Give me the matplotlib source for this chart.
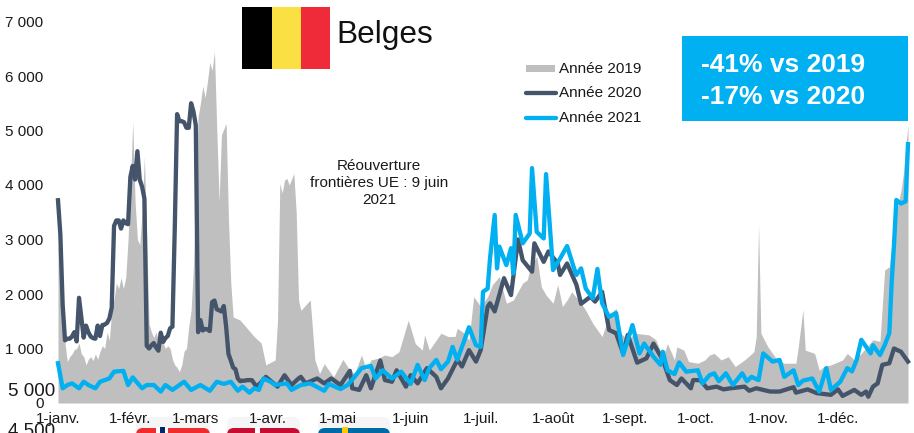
import matplotlib
matplotlib.use("Agg")
import matplotlib.pyplot as plt
from matplotlib.patches import Rectangle, FancyBboxPatch

plt.rcParams['font.family'] = ['Liberation Sans', 'DejaVu Sans']

month_ticks = [0, 31, 59, 90, 120, 151, 181, 212, 243, 273, 304, 334]
month_labels = ['1-janv.', '1-févr.', '1-mars', '1-avr.', '1-mai', '1-juin',
                '1-juil.', '1-août', '1-sept.', '1-oct.', '1-nov.', '1-déc.']
y_ticks = [0, 1000, 2000, 3000, 4000, 5000, 6000, 7000]
y_labels = ['0', '1 000', '2 000', '3 000', '4 000', '5 000', '6 000', '7 000']

days_2019 = [0, 1, 2, 3, 4, 5, 6, 7, 8, 9, 10, 11, 12, 13, 14, 15, 16, 17, 18, 19, 20, 21, 22, 23, 24, 25, 26, 27, 28, 29,
             30, 31, 32, 33, 34, 35, 36, 37, 38, 39, 40, 41, 42, 43, 44, 45, 46, 47, 48, 49, 50, 51, 52, 53, 54, 55, 56, 57, 58, 59,
             60, 61, 62, 63, 64, 65, 66, 67, 68, 69, 70, 72, 73, 74, 75, 78, 84, 87, 89, 93, 94, 95, 96, 97, 98, 99, 101, 102, 103,
             104, 108, 110, 112, 114, 116, 118, 122, 125, 127, 130, 132, 134, 137, 140, 143, 146, 150, 153, 156, 157, 159, 164, 167,
             170, 171, 174, 176, 178, 181, 184, 186, 189, 192, 195, 199, 201, 202, 205, 207, 209, 212, 214, 216, 218, 220, 224, 226,
             229, 233, 236, 239, 241, 244, 247, 253, 256, 259, 261, 264, 265, 268, 270, 274, 277, 279, 281, 284, 287, 290, 294, 298,
             299, 300, 301, 304, 308, 311, 316, 317, 319, 320, 324, 326, 328, 331, 336, 338, 341, 344, 349, 352, 354, 356, 358, 360,
             361, 362, 363, 364]
vals_2019 = [2900, 2600, 1300, 1100, 760, 850, 900, 980, 1000, 1100, 900, 850, 700, 800, 850, 780, 900, 800, 950, 1050,
             1000, 1300, 1150, 1700, 1900, 2200, 2100, 2300, 2100, 2300, 3000, 4000, 5160, 3700, 3000, 2900, 3500, 4520, 3000, 1450,
             1300, 1200, 1300, 1150, 1200, 1100, 1000, 1050, 1000, 800, 700, 650, 575, 700, 950, 1000, 1400, 1700, 2500, 4000,
             5250, 5500, 5816, 5600, 5900, 6250, 6100, 6450, 5000, 3700, 4920, 5130, 3360, 2200, 1580, 1520, 1220, 1100, 700, 790, 1500,
             4030, 3850, 4090, 4120, 4000, 4210, 3500, 1890,
             1700, 1890, 790, 540, 720, 600, 480, 800, 600, 540, 880, 600, 790, 820, 880, 850, 940, 1520, 1090, 970, 1250, 970, 1280, 1220,
             1220, 1370, 1280, 1150, 1950, 1770, 1950, 2170, 2320, 1830, 1890, 2200, 2260, 2450, 2690, 2130, 1980, 1830, 2170, 1770, 1890, 2040, 1830, 1700,
             1460, 1220, 1610, 1740, 1280, 1160, 1280, 1250, 1160, 850, 1090, 790, 1030, 970, 760, 730, 790, 880, 910, 790, 850, 670, 790, 940,
             1220, 3270, 1280, 1030, 790, 730, 730, 1030, 1710, 970, 910, 600, 670, 700, 790, 910, 790, 910, 1160, 1130, 2440, 2500, 3300, 3700,
             3900, 4200, 4700, 5100]

days_2020 = [0, 1, 2, 3, 4, 5, 6, 7, 8, 9, 11, 12, 13, 14, 15, 16, 17, 18, 19, 20, 21, 22, 23, 24, 25, 26, 27, 28, 29, 30,
             31, 32, 33, 34, 35, 36, 37, 38, 39, 40, 41, 42, 43, 44, 45, 46, 47, 48, 49, 50, 51, 52, 53, 54, 55, 56, 57, 58, 59, 60,
             61, 62, 63, 64, 65, 66, 67, 68, 69, 70, 71, 72, 73, 74, 75, 76, 77, 78, 79, 80, 81, 82, 83, 85, 87, 89, 94, 97, 100, 103,
             104, 106, 111, 114, 117, 121, 125, 126, 129, 132, 134, 138, 140, 143, 145, 149, 151, 154, 158, 162, 164, 167, 171, 173, 176, 179,
             181, 184, 185, 187, 191, 194, 197, 199, 203, 204, 208, 210, 214, 215, 218, 222, 224, 228, 230, 233, 236, 239, 242, 244, 248, 252,
             255, 259, 262, 265, 267, 271, 272, 275, 278, 282, 285, 288, 294, 296, 299, 305, 309, 315, 316, 321, 325, 331, 334, 336, 341, 344,
             346, 347, 349, 351, 353, 356, 358, 361, 364]
vals_2020 = [3720, 3100, 1800, 1150, 1180, 1180, 1220, 1300, 1130, 1930, 1200, 1420, 1300, 1220, 1190, 1180, 1420, 1230, 1430, 1440,
             1470, 1550, 1750, 3250, 3350, 3350, 3200, 3350, 3300, 3280, 4150, 4350, 4100, 4620, 4100, 3970, 3750, 1050, 1000, 1060,
             1100, 1020, 960, 1290, 1120, 1190, 1230, 1370, 1400, 3200, 5300, 5170, 5170, 5150, 5050, 5050, 5500, 5350, 5100, 1300,
             1520, 1330, 1360, 1350, 1320, 1850, 1880, 1720, 1700, 1680, 1780, 1400, 900, 780, 650, 620, 450, 400, 410, 410, 420, 420, 420,
             300, 380, 480, 300, 510, 330, 450,
             480, 360, 450, 360, 450, 330, 590, 270, 240, 510, 270, 780, 420, 390, 600, 300, 510, 360, 640, 480, 270, 450, 790, 670, 970, 760,
             970, 1770, 1830, 1680, 2290, 1980, 3000, 2620, 2410, 2930, 2590, 2780, 2560, 2350, 2560, 2170, 1820, 1950, 1860, 2040, 1340, 1280, 910, 1250, 740, 820,
             1090, 790, 420, 330, 450, 270, 420, 420, 270, 300, 250, 270, 300, 225, 270, 210, 210, 290, 190, 250, 180, 150, 250, 130, 240, 150,
             210, 115, 300, 360, 700, 730, 1000, 940, 760]

days_2021 = [0, 2, 4, 6, 9, 11, 13, 16, 18, 22, 24, 28, 30, 32, 36, 38, 41, 44, 46, 49, 54, 57, 61, 65, 68, 71, 74, 77, 79, 82, 84, 86, 88, 91, 93, 98, 100,
             104, 108, 114, 116, 121, 124, 127, 130, 134, 136, 139, 143, 147, 151, 154, 157, 159, 162, 164, 167, 169, 171, 176, 179, 181, 182,
             184, 185, 187, 188, 189, 192, 194, 195, 196, 199, 202, 203, 205, 208, 209, 212, 215, 218, 221, 222, 224, 226, 229, 231, 233,
             236, 239, 242, 246, 249, 251, 255, 258, 259, 261, 264, 266, 269, 274, 276, 279, 281, 283, 286, 289, 293, 295, 297, 300, 302, 306, 309, 311,
             315, 317, 319, 323, 326, 329, 331, 335, 338, 340, 342, 344, 348, 349, 352, 354, 356, 357, 358, 359, 361, 363, 364]
vals_2021 = [730, 270, 330, 360, 270, 390, 330, 270, 390, 450, 575, 590, 330, 470, 270, 330, 330, 210, 330, 240, 390, 240, 330, 225, 390, 350, 390, 225, 300, 190, 270, 240, 450, 390, 330, 360, 240,
             330, 360, 225, 350, 255, 330, 480, 640, 680, 450, 600, 450, 575, 350, 700, 420, 640, 790, 620, 760, 1030, 790, 1390, 1060, 1030, 2040,
             2100, 2650, 3450, 2470, 2870, 2530, 2840, 2380, 3450, 2930, 3110, 4310, 3140, 3020, 4200, 2440, 2650, 2880, 2470, 2350, 2470, 2100, 1920, 2460, 1830,
             1580, 1650, 880, 1430, 910, 1090, 850, 700, 940, 600, 530, 745, 575, 600, 360, 510, 545, 400, 545, 330, 545, 400, 480, 420, 910, 760, 790, 480,
             600, 330, 410, 450, 210, 640, 240, 390, 640, 580, 790, 1160, 910, 1060, 880, 1060, 1280, 2200, 2900, 3725, 3660, 3700, 4750]

series_colors = ['#BFBFBF', '#44546A', '#00B0F0']
legend_labels = ['Année 2019', 'Année 2020', 'Année 2021']

fig = plt.figure(figsize=(9.14, 4.33), dpi=100, facecolor='white')

# Pixel-coordinate backdrop for decorations
bg = fig.add_axes([0, 0, 1, 1], zorder=0)
bg.set_xlim(0, 914)
bg.set_ylim(433, 0)
bg.axis('off')

# Rounded thumbnails cut by the lower edge
for x0, x1 in [(136, 210), (227, 300), (318, 390)]:
    bg.add_patch(FancyBboxPatch((x0, 417), x1 - x0, 40, boxstyle='round,pad=0,rounding_size=7',
                                fc='#F5F5F5', ec='none'))
for x0, x1, c in [(136, 210, '#EF2B2D'), (227, 300, '#C60C30'), (318, 390, '#006AA7')]:
    bg.add_patch(FancyBboxPatch((x0, 428), x1 - x0, 30, boxstyle='round,pad=0,rounding_size=7',
                                fc=c, ec='none'))
bg.add_patch(Rectangle((156, 427), 12, 8, fc='white', ec='none'))
bg.add_patch(Rectangle((160, 427), 5, 8, fc='#002868', ec='none'))
bg.add_patch(Rectangle((255, 427), 5, 8, fc='white', ec='none'))
bg.add_patch(Rectangle((342, 427), 6, 8, fc='#FECC00', ec='none'))

# Main chart axes: x 58..908 px, y baseline 403 px
ax = fig.add_axes([58 / 914, (433 - 403) / 433, 850 / 914, 403 / 433], zorder=1)
ax.patch.set_alpha(0)
ax.set_xlim(0, 364)
ax.set_ylim(0, 403 / 54.5 * 1000)
for s in ax.spines.values():
    s.set_visible(False)
ax.set_xticks(month_ticks)
ax.set_xticklabels(month_labels, fontsize=11, color='#1a1a1a')
ax.set_yticks(y_ticks)
ax.set_yticklabels(y_labels, fontsize=11, color='#1a1a1a')
ax.tick_params(axis='x', length=0, pad=6.8)
ax.tick_params(axis='y', length=0, pad=10.5)

ax.fill_between(days_2019, vals_2019, 0, color=series_colors[0], lw=0, zorder=1)
ax.plot(days_2020, vals_2020, color=series_colors[1], lw=3.1, solid_joinstyle='round', zorder=2, clip_on=False)
ax.plot(days_2021, vals_2021, color=series_colors[2], lw=3.1, solid_joinstyle='round', zorder=3, clip_on=False)

# Overlay for text and boxes
fg = fig.add_axes([0, 0, 1, 1], zorder=2)
fg.patch.set_alpha(0)
fg.set_xlim(0, 914)
fg.set_ylim(433, 0)
fg.axis('off')

# Flag and title
fg.add_patch(Rectangle((242, 7), 30, 62, fc='black', ec='none'))
fg.add_patch(Rectangle((272, 7), 29, 62, fc='#FAE042', ec='none'))
fg.add_patch(Rectangle((301, 7), 29, 62, fc='#EF2B3A', ec='none'))
fg.text(336, 35, 'Belges', fontsize=22.8, color='#111111', va='center', ha='left')

# Callout box
fg.add_patch(Rectangle((682, 36), 226, 85, fc='#00B0F0', ec='none'))
fg.text(701, 64.5, '-41% vs 2019', fontsize=19, fontweight='bold', color='white', va='center', ha='left')
fg.text(701, 96.5, '-17% vs 2020', fontsize=19, fontweight='bold', color='white', va='center', ha='left')

# Legend
fg.add_patch(Rectangle((526, 65), 29, 7, fc=series_colors[0], ec='none'))
fg.plot([526, 556], [93, 93], color=series_colors[1], lw=3.1, solid_capstyle='round')
fg.plot([526, 556], [118, 118], color=series_colors[2], lw=3.1, solid_capstyle='round')
for lab, y in zip(legend_labels, [69, 93, 118]):
    fg.text(559, y, lab, fontsize=11, color='#1a1a1a', va='center', ha='left')

# Annotation
fg.text(379, 183, 'Réouverture\nfrontières UE : 9 juin\n2021', fontsize=11, color='#1a1a1a',
        va='center', ha='center', linespacing=1.27)

# Stray axis labels of neighbouring chart
fg.text(8, 391, '5 000', fontsize=13.5, color='#1a1a1a', va='center', ha='left')
fg.text(8, 431, '4 500', fontsize=13.5, color='#1a1a1a', va='center', ha='left')

fig.savefig('out.png', dpi=100)
